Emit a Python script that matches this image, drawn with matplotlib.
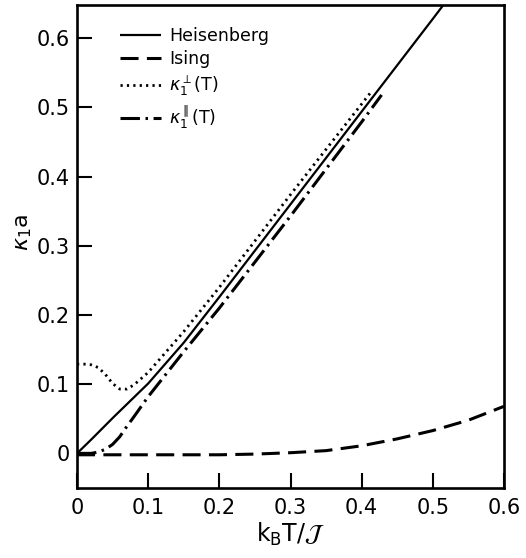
import matplotlib
matplotlib.use("Agg")
import matplotlib.pyplot as plt

plt.rcParams['lines.scale_dashes'] = False
plt.rcParams['mathtext.fontset'] = 'dejavusans'

# Heisenberg (solid)
heis_x = [0.0, 0.02, 0.05, 0.10, 0.15, 0.20, 0.30, 0.40, 0.50, 0.52]
heis_y = [0.0, 0.020, 0.051, 0.101, 0.160, 0.226, 0.360, 0.494, 0.628, 0.655]

# Ising (dashed)
ising_x = [0.0, 0.10, 0.20, 0.25, 0.30, 0.35, 0.40, 0.45, 0.50, 0.55, 0.60]
ising_y = [-0.002, -0.002, -0.002, -0.001, 0.001, 0.004, 0.011, 0.021, 0.033, 0.048, 0.068]

# kappa_1 perpendicular (dotted)
perp_x = [0.0, 0.01, 0.02, 0.03, 0.04, 0.05, 0.06, 0.07, 0.08, 0.10, 0.15, 0.20, 0.30, 0.40, 0.413]
perp_y = [0.129, 0.129, 0.128, 0.124, 0.114, 0.101, 0.093, 0.093, 0.099, 0.117, 0.176, 0.240, 0.374, 0.505, 0.522]

# kappa_1 parallel (dash-dot)
par_x = [0.0, 0.01, 0.02, 0.03, 0.04, 0.05, 0.06, 0.07, 0.08, 0.10, 0.15, 0.20, 0.30, 0.40, 0.428]
par_y = [0.0, 0.0, 0.0, 0.002, 0.006, 0.013, 0.024, 0.039, 0.053, 0.082, 0.147, 0.210, 0.343, 0.479, 0.518]

x_ticks = [0, 0.1, 0.2, 0.3, 0.4, 0.5, 0.6]
x_ticklabels = ['0', '0.1', '0.2', '0.3', '0.4', '0.5', '0.6']
y_ticks = [0, 0.1, 0.2, 0.3, 0.4, 0.5, 0.6]
y_ticklabels = ['0', '0.1', '0.2', '0.3', '0.4', '0.5', '0.6']

fig = plt.figure(figsize=(5.26, 5.58), dpi=100)
ax = fig.add_axes([77/526, 70/558, 427/526, 483/558])

ax.plot(heis_x, heis_y, color='black', lw=1.6, label='Heisenberg', solid_capstyle='butt')
ax.plot(ising_x, ising_y, color='black', lw=2.2, dashes=(13, 6), label='Ising')
ax.plot(perp_x, perp_y, color='black', lw=2.0, dashes=(1.6, 3.0), label=r'$\kappa_1^{\perp}$(T)')
ax.plot(par_x, par_y, color='black', lw=2.2, dashes=(14, 4, 1.8, 4), label=r'$\kappa_1^{\parallel}$(T)')

ax.set_xlim(0, 0.6)
ax.set_ylim(-0.05, 0.648)
ax.set_xticks(x_ticks)
ax.set_xticklabels(x_ticklabels)
ax.set_yticks(y_ticks)
ax.set_yticklabels(y_ticklabels)
ax.tick_params(direction='in', length=11, width=1.5, labelsize=15, top=False, right=False)
ax.tick_params(axis='x', pad=7)
ax.tick_params(axis='y', pad=5)
for s in ax.spines.values():
    s.set_linewidth(1.9)

ax.set_xlabel(r'k$_\mathrm{B}$T/$\mathcal{J}$', fontsize=17, labelpad=2)
ax.set_ylabel(r'$\kappa_1$a', fontsize=16)
ax.yaxis.set_label_coords(-0.1, 0.53)

leg = ax.legend(loc='upper left', bbox_to_anchor=(0.1, 0.955), frameon=False,
                fontsize=12.5, handlelength=2.4, handletextpad=0.45, labelspacing=0.32,
                borderpad=0, borderaxespad=0)

fig.savefig('out.png', dpi=100)
